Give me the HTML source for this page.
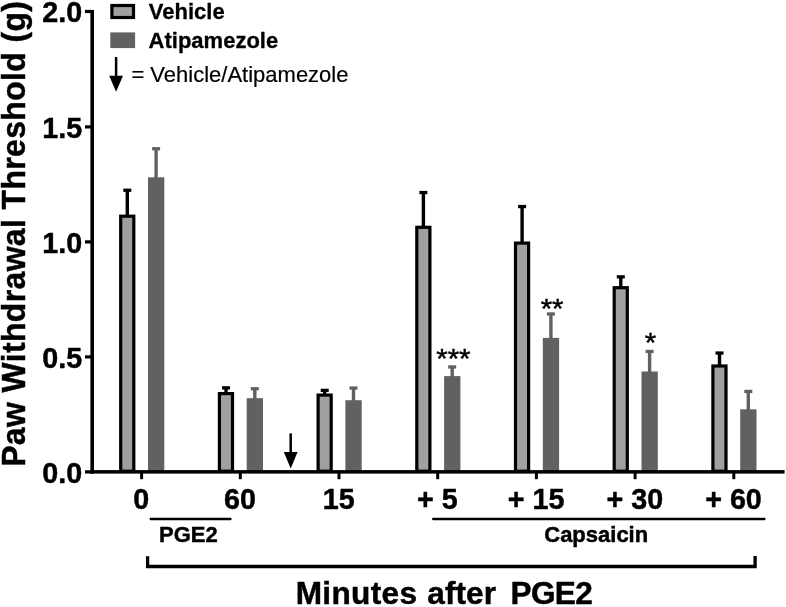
<!DOCTYPE html>
<html><head><meta charset="utf-8"><title>Paw Withdrawal Threshold</title>
<style>
html,body{margin:0;padding:0;background:#fff;}
body{width:786px;height:607px;overflow:hidden;}
svg{display:block;font-family:"Liberation Sans",Arial,Helvetica,sans-serif;}
.b{font-weight:bold;}
</style></head><body>
<svg width="786" height="607" viewBox="0 0 786 607">
<rect width="786" height="607" fill="#fff"/>
<rect x="125.6" y="189.7" width="3.4" height="25.9" fill="#000"/>
<rect x="123.3" y="188.6" width="8" height="3.3" fill="#000"/>
<rect x="120.7" y="216.2" width="13.1" height="255.0" fill="#a0a0a0" stroke="#000" stroke-width="3.2"/>
<rect x="154.4" y="148.2" width="3.4" height="30.1" fill="#616161"/>
<rect x="152.1" y="147.1" width="8" height="3.3" fill="#616161"/>
<rect x="148.0" y="177.3" width="16.3" height="294.7" fill="#616161"/>
<rect x="224.3" y="387.3" width="3.4" height="5.7" fill="#000"/>
<rect x="222.0" y="386.2" width="8" height="3.3" fill="#000"/>
<rect x="219.4" y="393.6" width="13.1" height="77.6" fill="#a0a0a0" stroke="#000" stroke-width="3.2"/>
<rect x="253.1" y="388.2" width="3.4" height="11.0" fill="#616161"/>
<rect x="250.8" y="387.1" width="8" height="3.3" fill="#616161"/>
<rect x="246.7" y="398.2" width="16.3" height="73.8" fill="#616161"/>
<rect x="323.0" y="389.8" width="3.4" height="4.7" fill="#000"/>
<rect x="320.7" y="388.7" width="8" height="3.3" fill="#000"/>
<rect x="318.1" y="395.1" width="13.1" height="76.1" fill="#a0a0a0" stroke="#000" stroke-width="3.2"/>
<rect x="351.8" y="387.5" width="3.4" height="13.7" fill="#616161"/>
<rect x="349.5" y="386.4" width="8" height="3.3" fill="#616161"/>
<rect x="345.4" y="400.2" width="16.3" height="71.8" fill="#616161"/>
<rect x="421.7" y="192.0" width="3.4" height="34.7" fill="#000"/>
<rect x="419.4" y="190.9" width="8" height="3.3" fill="#000"/>
<rect x="416.8" y="227.3" width="13.1" height="243.9" fill="#a0a0a0" stroke="#000" stroke-width="3.2"/>
<rect x="450.5" y="366.4" width="3.4" height="10.7" fill="#616161"/>
<rect x="448.2" y="365.3" width="8" height="3.3" fill="#616161"/>
<rect x="444.1" y="376.1" width="16.3" height="95.9" fill="#616161"/>
<rect x="520.4" y="206.0" width="3.4" height="36.5" fill="#000"/>
<rect x="518.1" y="204.9" width="8" height="3.3" fill="#000"/>
<rect x="515.5" y="243.1" width="13.1" height="228.1" fill="#a0a0a0" stroke="#000" stroke-width="3.2"/>
<rect x="549.2" y="313.4" width="3.4" height="25.5" fill="#616161"/>
<rect x="546.9" y="312.3" width="8" height="3.3" fill="#616161"/>
<rect x="542.8" y="337.9" width="16.3" height="134.1" fill="#616161"/>
<rect x="619.1" y="276.3" width="3.4" height="10.8" fill="#000"/>
<rect x="616.8" y="275.2" width="8" height="3.3" fill="#000"/>
<rect x="614.2" y="287.7" width="13.1" height="183.5" fill="#a0a0a0" stroke="#000" stroke-width="3.2"/>
<rect x="647.9" y="350.9" width="3.4" height="21.6" fill="#616161"/>
<rect x="645.6" y="349.8" width="8" height="3.3" fill="#616161"/>
<rect x="641.5" y="371.5" width="16.3" height="100.5" fill="#616161"/>
<rect x="717.8" y="352.5" width="3.4" height="12.9" fill="#000"/>
<rect x="715.5" y="351.4" width="8" height="3.3" fill="#000"/>
<rect x="712.9" y="366.0" width="13.1" height="105.2" fill="#a0a0a0" stroke="#000" stroke-width="3.2"/>
<rect x="746.6" y="390.9" width="3.4" height="19.4" fill="#616161"/>
<rect x="744.3" y="389.8" width="8" height="3.3" fill="#616161"/>
<rect x="740.2" y="409.3" width="16.3" height="62.7" fill="#616161"/>
<rect x="90.4" y="9.9" width="3.6" height="463.7" fill="#000"/>
<rect x="90.3" y="470.1" width="694.3" height="3.5" fill="#000"/>
<rect x="85" y="470.3" width="6" height="3.2" fill="#000"/>
<text class="b" transform="translate(82.1 482.6) scale(1 1.06)" font-size="28.7" text-anchor="end" stroke="#000" stroke-width="0.45">0.0</text>
<rect x="85" y="355.3" width="6" height="3.2" fill="#000"/>
<text class="b" transform="translate(82.1 367.6) scale(1 1.06)" font-size="28.7" text-anchor="end" stroke="#000" stroke-width="0.45">0.5</text>
<rect x="85" y="240.3" width="6" height="3.2" fill="#000"/>
<text class="b" transform="translate(82.1 252.6) scale(1 1.06)" font-size="28.7" text-anchor="end" stroke="#000" stroke-width="0.45">1.0</text>
<rect x="85" y="125.3" width="6" height="3.2" fill="#000"/>
<text class="b" transform="translate(82.1 137.6) scale(1 1.06)" font-size="28.7" text-anchor="end" stroke="#000" stroke-width="0.45">1.5</text>
<rect x="85" y="9.9" width="6" height="3.2" fill="#000"/>
<text class="b" transform="translate(82.1 22.2) scale(1 1.06)" font-size="28.7" text-anchor="end" stroke="#000" stroke-width="0.45">2.0</text>
<rect x="140.1" y="472" width="3" height="7.2" fill="#000"/>
<text class="b" transform="translate(141.3 509.0) scale(1 1.06)" font-size="28.7" text-anchor="middle" stroke="#000" stroke-width="0.45">0</text>
<rect x="238.8" y="472" width="3" height="7.2" fill="#000"/>
<text class="b" transform="translate(240.0 509.0) scale(1 1.06)" font-size="28.7" text-anchor="middle" stroke="#000" stroke-width="0.45">60</text>
<rect x="337.5" y="472" width="3" height="7.2" fill="#000"/>
<text class="b" transform="translate(338.7 509.0) scale(1 1.06)" font-size="28.7" text-anchor="middle" stroke="#000" stroke-width="0.45">15</text>
<rect x="436.2" y="472" width="3" height="7.2" fill="#000"/>
<text class="b" transform="translate(437.4 509.0) scale(1 1.06)" font-size="28.7" text-anchor="middle" stroke="#000" stroke-width="0.45">+ 5</text>
<rect x="534.9" y="472" width="3" height="7.2" fill="#000"/>
<text class="b" transform="translate(536.1 509.0) scale(1 1.06)" font-size="28.7" text-anchor="middle" stroke="#000" stroke-width="0.45">+ 15</text>
<rect x="633.6" y="472" width="3" height="7.2" fill="#000"/>
<text class="b" transform="translate(634.8 509.0) scale(1 1.06)" font-size="28.7" text-anchor="middle" stroke="#000" stroke-width="0.45">+ 30</text>
<rect x="732.3" y="472" width="3" height="7.2" fill="#000"/>
<text class="b" transform="translate(733.5 509.0) scale(1 1.06)" font-size="28.7" text-anchor="middle" stroke="#000" stroke-width="0.45">+ 60</text>
<text transform="translate(453.4 368.4) scale(1 0.92)" font-size="29.4" text-anchor="middle" stroke="#000" stroke-width="0.45">***</text>
<text transform="translate(552.1 318.2) scale(1 0.92)" font-size="29.4" text-anchor="middle" stroke="#000" stroke-width="0.45">**</text>
<text transform="translate(650.4 352.4) scale(1 0.92)" font-size="29.4" text-anchor="middle" stroke="#000" stroke-width="0.45">*</text>
<rect x="111.9" y="5.5" width="21.6" height="12" fill="#a0a0a0" stroke="#000" stroke-width="3.2"/>
<rect x="110.3" y="32.4" width="24.8" height="15.7" fill="#616161"/>
<text class="b" transform="translate(148.8 18.7) scale(1 1.03)" font-size="22" text-anchor="start" stroke="#000" stroke-width="0.3">Vehicle</text>
<text class="b" transform="translate(148.6 48.1) scale(1 1.03)" font-size="22" text-anchor="start" stroke="#000" stroke-width="0.3">Atipamezole</text>
<text transform="translate(131.4 82.4) scale(1 1.045)" font-size="22" text-anchor="start" stroke="#000" stroke-width="0.2">= Vehicle/Atipamezole</text>
<rect x="114.85" y="57" width="2.5" height="19.7" fill="#000"/>
<path d="M109.20 75.7L123.00 75.7L116.1 91.7Z" fill="#000"/>
<rect x="289.45" y="433.4" width="2.5" height="19.6" fill="#000"/>
<path d="M283.80 452L297.60 452L290.7 468.5Z" fill="#000"/>
<path d="M150.8 519.1H230.4" stroke="#000" stroke-width="2.5" stroke-linecap="round" fill="none"/>
<path d="M433.3 519.1H764.3" stroke="#000" stroke-width="2.5" stroke-linecap="round" fill="none"/>
<text class="b" transform="translate(188.3 541.8) scale(1 1.045)" font-size="22" text-anchor="middle" stroke="#000" stroke-width="0.45">PGE2</text>
<text class="b" transform="translate(596.2 541.5) scale(1 1.045)" font-size="22" text-anchor="middle" stroke="#000" stroke-width="0.45">Capsaicin</text>
<path d="M147.6 556.3V566.5H755.1V556" stroke="#000" stroke-width="3.3" fill="none" stroke-linejoin="miter"/>
<text class="b" transform="translate(295.7 604.2) scale(1 1.0)" font-size="31.6" text-anchor="start" stroke="#000" stroke-width="0.45" textLength="121.4" lengthAdjust="spacing">Minutes</text>
<text class="b" transform="translate(427.3 604.2) scale(1 1.0)" font-size="31.6" text-anchor="start" stroke="#000" stroke-width="0.45" textLength="68.7" lengthAdjust="spacing">after</text>
<text class="b" transform="translate(510.6 604.2) scale(1 1.0)" font-size="31.6" text-anchor="start" stroke="#000" stroke-width="0.45" textLength="82.2" lengthAdjust="spacing">PGE2</text>
<text class="b" transform="translate(24.9 466.8) rotate(-90) scale(1 1.03)" font-size="31.9" text-anchor="start" stroke="#000" stroke-width="0.45" textLength="465.8" lengthAdjust="spacing">Paw Withdrawal Threshold (g)</text>
</svg></body></html>
